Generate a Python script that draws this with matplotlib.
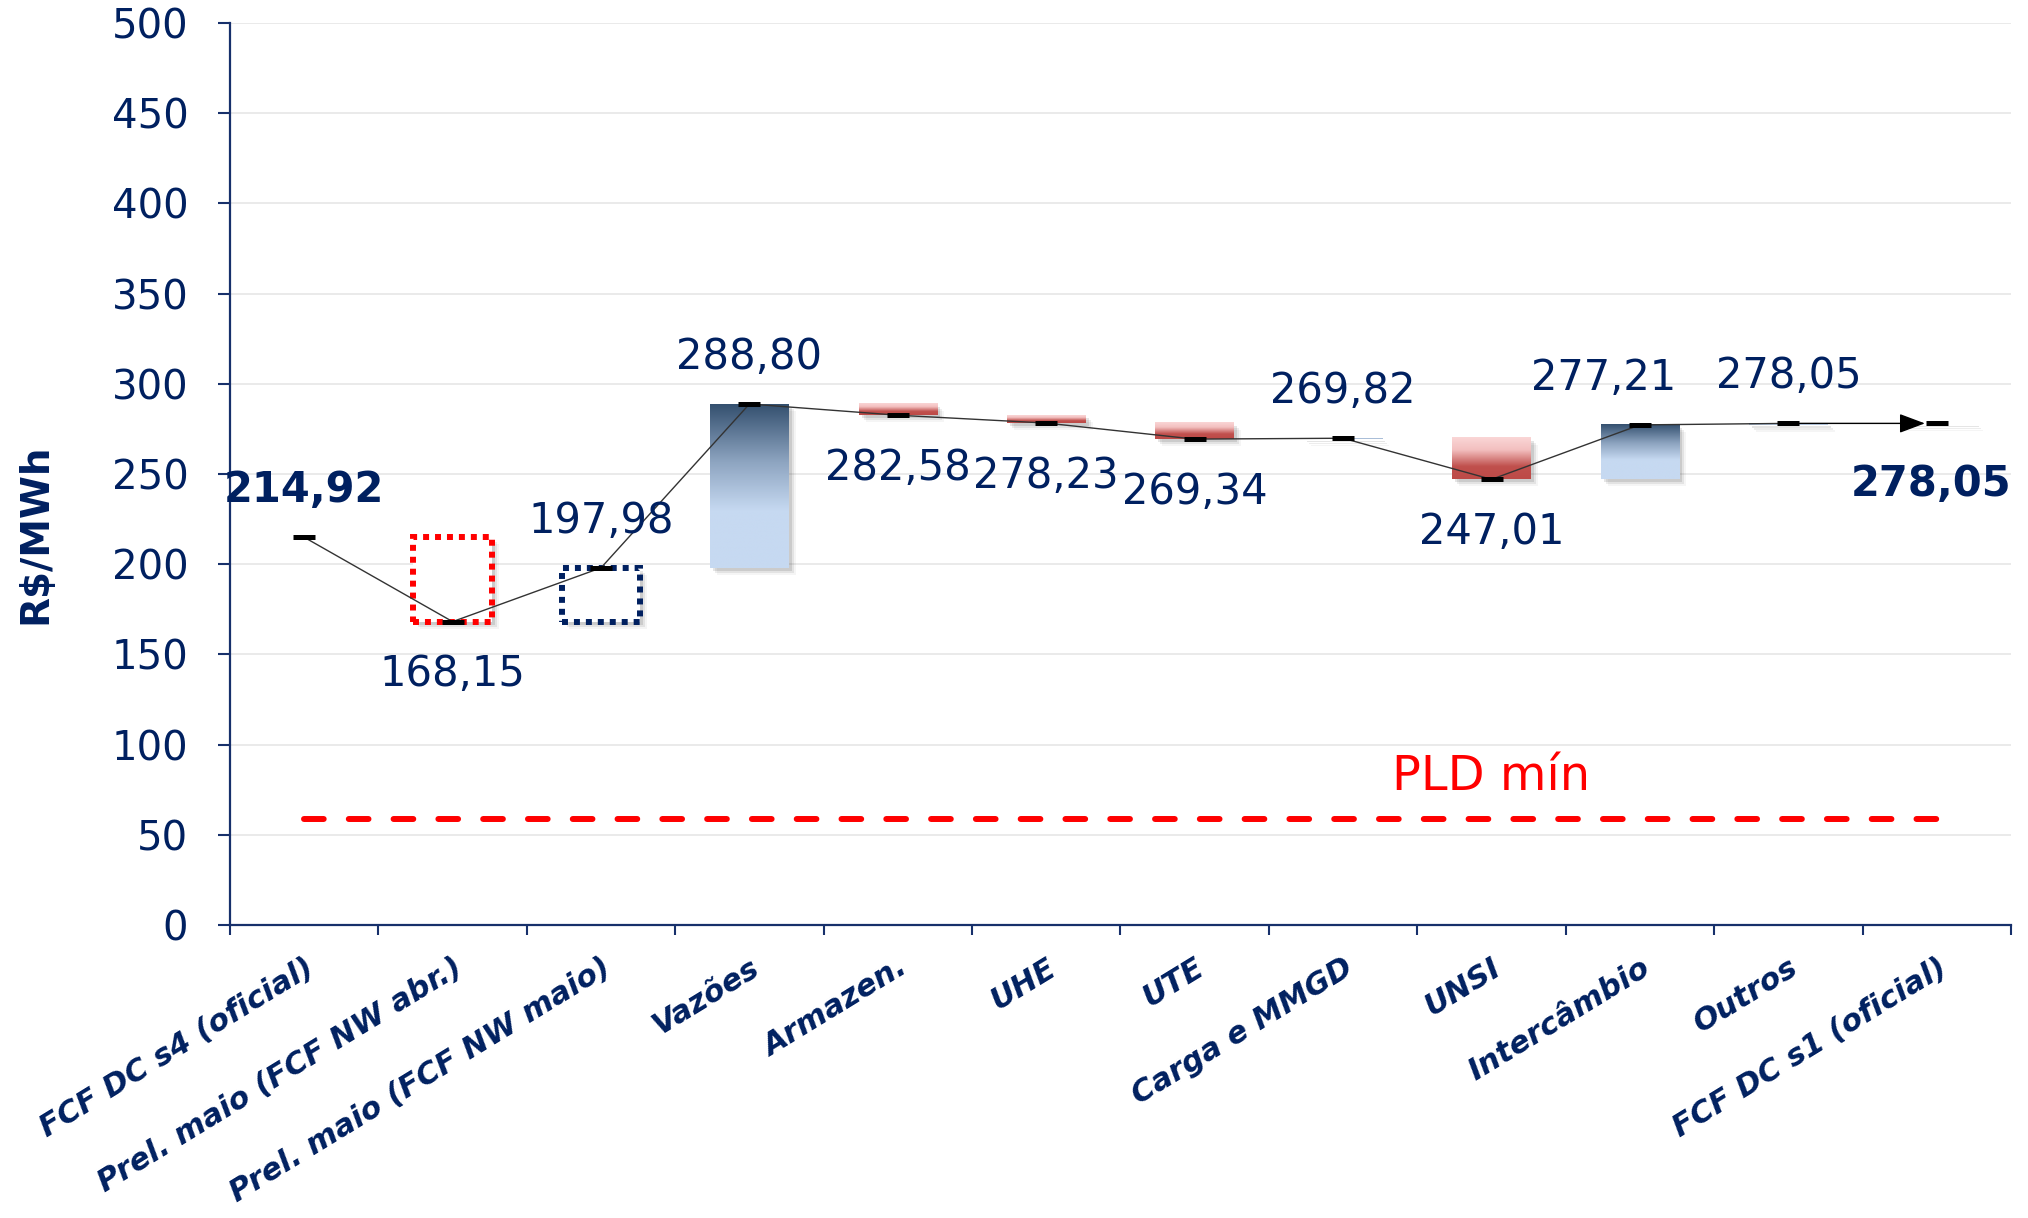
import matplotlib
matplotlib.use("Agg")
import matplotlib.pyplot as plt
import matplotlib.transforms as mtransforms
from matplotlib.colors import LinearSegmentedColormap
from matplotlib.patches import Rectangle
import numpy as np

# Data
categories = [
    "FCF DC s4 (oficial)", "Prel. maio (FCF NW abr.)", "Prel. maio (FCF NW maio)",
    "Vazões", "Armazen.", "UHE", "UTE", "Carga e MMGD", "UNSI",
    "Intercâmbio", "Outros", "FCF DC s1 (oficial)",
]
values = [214.92, 168.15, 197.98, 288.80, 282.58, 278.23, 269.34,
          269.82, 247.01, 277.21, 278.05, 278.05]
label_pos = ["above", "below", "above", "above", "below", "below", "below",
             "above", "below", "above", "above", "below"]
label_bold = [True] + [False] * 10 + [True]
pld_min = 58.60

NAVY = "#002060"
AXIS = "#17306b"

blue_cmap = LinearSegmentedColormap.from_list(
    "blue", [(0.0, "#34506f"), (0.35, "#8da4c0"), (0.65, "#c6d9f1"), (1.0, "#c6d9f1")])
red_cmap = LinearSegmentedColormap.from_list(
    "red", [(0.0, "#fad6d6"), (0.3, "#f3c0c0"), (0.7, "#c0504d"), (1.0, "#bd4a47")])
grad = np.linspace(0, 1, 256).reshape(-1, 1)

fig = plt.figure(figsize=(20.28, 12.18), dpi=100)
ax = fig.add_axes([0.1134, 0.2406, 0.8782, 0.7405])
x = np.arange(len(categories))
w = 0.53


def add_shadow(x0, y0, width, height):
    # soft drop shadow, a few stacked offset rectangles
    for k, a in zip([3, 5, 7], [0.10, 0.07, 0.04]):
        tr = mtransforms.offset_copy(ax.transData, fig=fig, x=k, y=-k, units="dots")
        ax.add_patch(Rectangle((x0, y0), width, height, transform=tr,
                               facecolor="#000000", edgecolor="none", alpha=a, zorder=1.5))


# dotted boxes for the preliminary runs
box_colors = {1: "#ff0000", 2: NAVY}
for i, col in box_colors.items():
    lo = values[1]
    hi = values[0] if i == 1 else values[i]
    add_shadow(x[i] - w / 2, lo, w, hi - lo)
    ax.add_patch(Rectangle((x[i] - w / 2, lo), w, hi - lo, facecolor="white",
                           edgecolor=col, linewidth=4.3, linestyle=(0, (1, 1)), zorder=2))

# waterfall bars
for i in range(3, len(values) - 1):
    prev, cur = values[i - 1], values[i]
    lo, hi = min(prev, cur), max(prev, cur)
    cmap = blue_cmap if cur >= prev else red_cmap
    add_shadow(x[i] - w / 2, lo, w, hi - lo)
    ax.imshow(grad, extent=[x[i] - w / 2, x[i] + w / 2, lo, hi], aspect="auto",
              cmap=cmap, origin="upper", zorder=2, interpolation="bilinear")
# zero-height final bar shadow
add_shadow(x[-1] - w / 2, values[-1] - 0.4, w, 0.8)

# connecting line and markers
ax.plot(x[:-1], values[:-1], color="#333333", lw=1.0, zorder=3)
ax.annotate("", xy=(x[-1] - 0.08, values[-1]), xytext=(x[-2], values[-2]),
            arrowprops=dict(arrowstyle="-|>,head_length=0.8,head_width=0.3",
                            color="black", lw=1.0, mutation_scale=20,
                            shrinkA=0, shrinkB=0), zorder=3)
ax.plot(x, values, linestyle="none", marker="_", markersize=16,
        markeredgewidth=3.6, color="black", zorder=4)

# PLD min
ax.plot([x[0], x[-1]], [pld_min, pld_min], color="#ff0000", lw=4.3,
        linestyle=(0, (3.3, 4.2)), dash_capstyle="round", zorder=2)
ax.text(x[8], 82.5, "PLD mín", color="#ff0000", fontsize=34.5,
        ha="center", va="center", zorder=5)

# value labels
for i, v in enumerate(values):
    txt = f"{v:.2f}".replace(".", ",")
    dy = 34 if label_pos[i] == "above" else -38
    dx = 0
    if i == 9:
        dx = -26
    if i == len(values) - 1:
        dy, dx = -44, -4
    ax.annotate(txt, (x[i], v), xytext=(dx, dy), textcoords="offset points",
                ha="center", va="center", fontsize=30, color=NAVY,
                fontweight="bold" if label_bold[i] else "normal", zorder=5)

# axes styling
ax.set_xlim(-0.5, len(categories) - 0.5)
ax.set_ylim(0, 500)
ax.set_yticks(np.arange(0, 501, 50))
ax.tick_params(axis="y", labelsize=29, labelcolor=NAVY, color=AXIS,
               length=9, width=1.5, pad=21)
ax.set_xticks(x)
ax.set_xticklabels(categories, rotation=31.5, ha="right", va="top",
                   rotation_mode="anchor", fontsize=22, fontweight="bold",
                   fontstyle="italic", color=NAVY)
ax.tick_params(axis="x", which="major", length=0, pad=20)
ax.set_xticks(np.arange(-0.5, len(categories)), minor=True)
ax.tick_params(axis="x", which="minor", length=7, width=1.5, color=AXIS)
ax.yaxis.grid(True, color="#e6e6e6", lw=1.2)
ax.set_axisbelow(True)
for s in ["top", "right"]:
    ax.spines[s].set_visible(False)
for s in ["left", "bottom"]:
    ax.spines[s].set_color(AXIS)
    ax.spines[s].set_linewidth(1.6)

fig.text(35 / 2028, 1 - 534 / 1218, "R$/MWh", rotation=90, ha="center", va="center",
         fontsize=28, fontweight="bold", color=NAVY)

fig.savefig("out.png", dpi=100)
